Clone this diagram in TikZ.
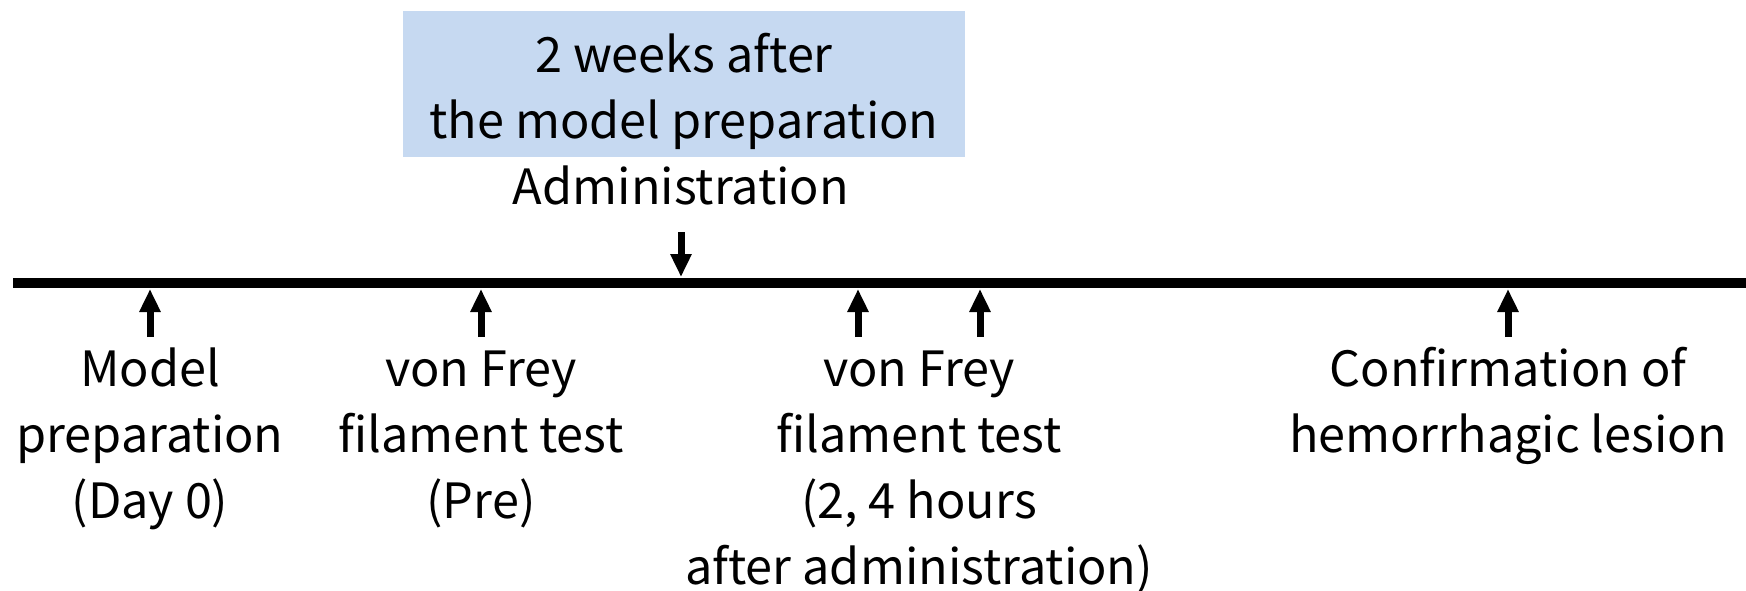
\documentclass[tikz,border=0pt]{standalone}
\usepackage{fontspec}
\setmainfont{Noto Sans CJK JP}
\usetikzlibrary{arrows.meta,positioning}
\definecolor{boxblue}{HTML}{C6D9F1}
\tikzset{axis/.style={line width=5pt,draw=black},
  tick/.style={line width=3.5pt,-{Triangle[length=11.5pt,width=10pt]}},
  lbl/.style={align=center,inner sep=0pt,anchor=base,font=\fontsize{24.3}{33}\selectfont}}

\begin{document}
\begin{tikzpicture}[x=0.5pt,y=-0.5pt]
\useasboundingbox (0,0) rectangle (1746,590);
\coordinate (start) at (13,283);
\coordinate (stop) at (1746,283);
\draw[axis] (start) -- (stop);
\fill[boxblue] (403,11) rectangle (965,157);
\node[lbl] (weeks) at (684,138) {2 weeks after\\the model preparation};
\node[lbl] (admin) at (681,204) {Administration};
\coordinate (admtail) at (681,232);
\coordinate (admtip) at (681,277);
\draw[tick] (admtail) -- (admtip);
% events below the axis
\foreach \x/\n in {150/ma,481/pre,858/two,980/four,1508/conf}{
  \coordinate (\n tail) at (\x,337);
  \coordinate (\n tip) at (\x,289);
  \draw[tick] (\n tail) -- (\n tip);
}
% base anchor sits on the last line
\node[lbl] (model) at (150,518) {Model\\preparation\\(Day 0)};
\node[lbl] (vfpre) at (481,518) {von Frey\\filament test\\(Pre)};
\node[lbl] (vfpost) at (919,584) {von Frey\\filament test\\(2, 4 hours\\after administration)};
\node[lbl] (lesion) at (1508,452) {Confirmation of\\hemorrhagic lesion};
\end{tikzpicture}
\end{document}
